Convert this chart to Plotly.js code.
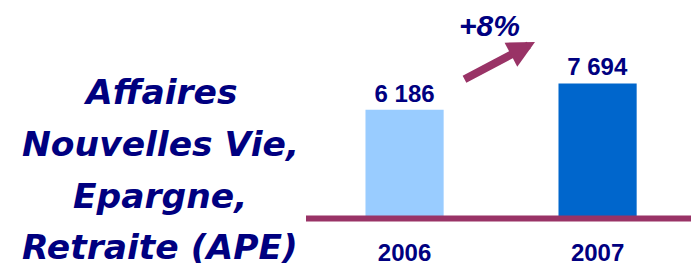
<!DOCTYPE html>
<html><head><meta charset="utf-8">
<script src="https://cdn.plot.ly/plotly-3.0.1.min.js"></script>
<style>html,body{margin:0;padding:0;background:#fff;overflow:hidden}</style>
</head><body>
<div id="chart" style="width:691px;height:268px"></div>
<script>
// ---- data ----
const years = ['2006', '2007'];
const apeValues = [6186, 7694];
const barColors = ['#99CCFF', '#0066CC'];
const titleLines = ['Affaires', 'Nouvelles Vie,', 'Epargne,', 'Retraite (APE)'];
const growthLabel = '+8%';

// ---- styles ----
const NAVY = '#000080';
const MAROON = '#993366';
const W = 691, H = 268;
const fmt = v => String(v).replace(/\B(?=(\d{3})+(?!\d))/g, ' ');

const trace = {
  type: 'bar',
  x: years,
  y: apeValues,
  marker: {color: barColors, line: {width: 0}},
  width: 0.405,
  text: apeValues.map(fmt),
  texttemplate: '%{text}',
  textposition: 'outside',
  cliponaxis: false,
  textfont: {family: 'Liberation Sans, Arial, sans-serif', size: 24, weight: 'bold', color: NAVY},
  hoverinfo: 'skip'
};

const px = (x) => x / W;
const py = (y) => 1 - y / H;
const lineCentersY = [92, 144, 196, 247];

const annotations = titleLines.map((t, i) => ({
  text: t, xref: 'paper', yref: 'paper', x: px(160), y: py(lineCentersY[i]),
  xanchor: 'center', yanchor: 'middle', showarrow: false,
  font: {family: 'DejaVu Sans, sans-serif', size: 34.5, weight: 'bold', style: 'italic', color: NAVY}
}));
annotations.push({
  text: growthLabel, xref: 'paper', yref: 'paper', x: px(489), y: py(26),
  xanchor: 'center', yanchor: 'middle', showarrow: false,
  font: {family: 'Liberation Sans, Arial, sans-serif', size: 30, weight: 'bold', style: 'italic', color: NAVY}
});
annotations.push({
  text: '', xref: 'paper', yref: 'paper', x: px(535), y: py(42),
  showarrow: true, ax: -72, ay: 38, arrowhead: 2, arrowsize: 0.68, arrowwidth: 8,
  arrowcolor: MAROON, standoff: 0, startstandoff: 0
});

const layout = {
  width: W, height: H,
  margin: {l: 0, r: 0, t: 0, b: 0, pad: 0},
  paper_bgcolor: '#ffffff', plot_bgcolor: 'rgba(0,0,0,0)',
  showlegend: false,
  xaxis: {
    type: 'category', range: [-2.096, 1.484], fixedrange: true,
    showline: false, zeroline: false, showgrid: false, ticks: '',
    tickfont: {family: 'Liberation Sans, Arial, sans-serif', size: 24, weight: 'bold', color: NAVY},
    ticklabelstandoff: 18
  },
  yaxis: {
    domain: [50 / H, 1], range: [0, 12470], fixedrange: true,
    showline: false, zeroline: false, showgrid: false, showticklabels: false, ticks: ''
  },
  shapes: [{
    type: 'line', xref: 'paper', yref: 'paper',
    x0: px(306), x1: 1, y0: py(218.5), y1: py(218.5),
    line: {color: MAROON, width: 6}, layer: 'above'
  }],
  annotations: annotations
};

Plotly.newPlot('chart', [trace], layout, {staticPlot: true, displayModeBar: false});
</script>
</body></html>
